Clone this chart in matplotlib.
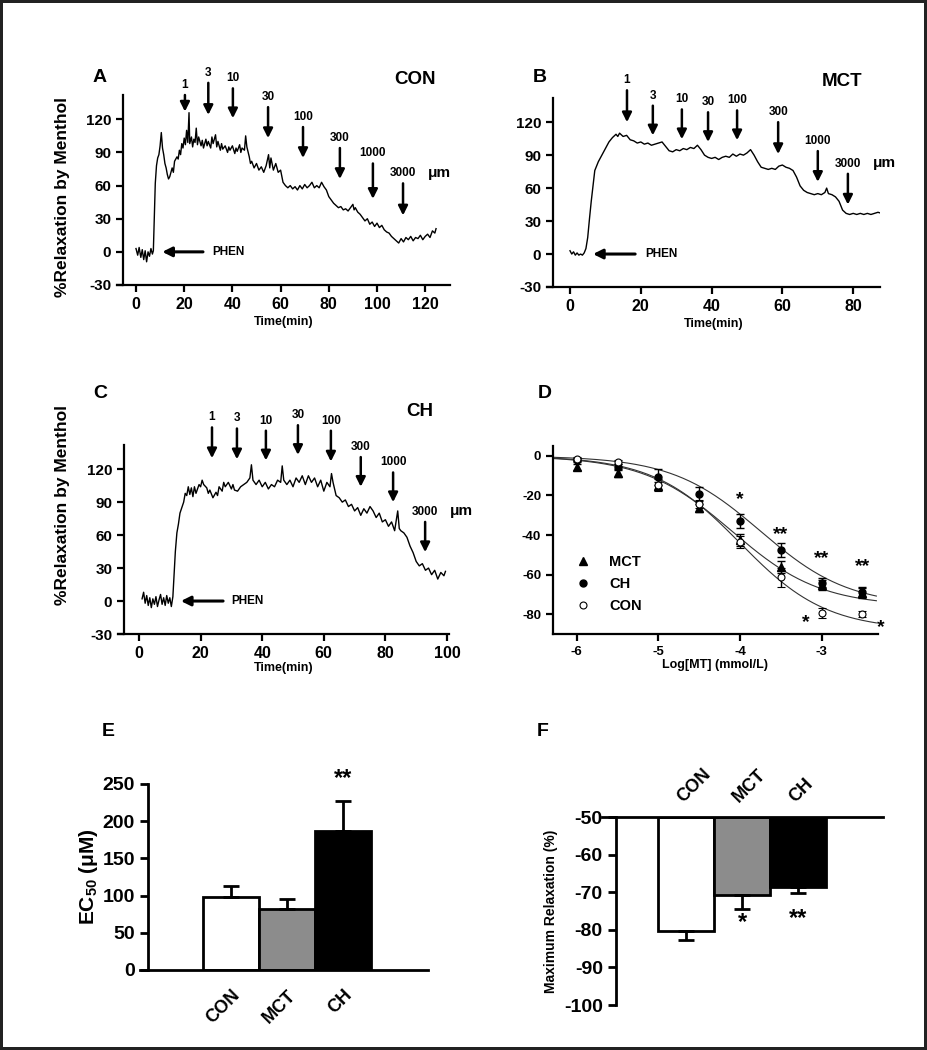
import numpy as np
import matplotlib
matplotlib.use('Agg')
import matplotlib.pyplot as plt
from matplotlib.lines import Line2D

plt.rcParams['font.family'] = ['Liberation Sans', 'DejaVu Sans']
plt.rcParams['font.weight'] = 'bold'
plt.rcParams['mathtext.fontset'] = 'custom'
plt.rcParams['mathtext.rm'] = 'Liberation Sans:bold'
plt.rcParams['mathtext.default'] = 'rm'
plt.rcParams['axes.unicode_minus'] = False

# ---- raw tracings (time in min, % relaxation) ----
time_con = [0, 0.7, 1.3, 2, 2.6, 3.2, 3.8, 4.4, 5, 5.6, 6.2, 6.8, 7.2, 7.6, 8, 8.5, 9, 9.5, 10, 10.5,
            11, 11.5, 12, 12.5, 13, 13.5, 14, 15, 15.5, 16, 17, 17.5, 18, 18.5, 19, 19.5, 20, 20.5, 21, 21.5,
            22, 22.3, 23, 23.5, 24, 24.5, 25, 25.5, 26, 27, 27.5, 28, 29, 29.5, 30, 31, 31.5, 32, 33, 33.5,
            34, 35, 35.5, 36, 37, 38, 38.5, 39, 40, 41, 41.5, 42, 43, 43.5, 44, 45, 45.5, 46, 47, 47.5,
            48, 49, 50, 51, 52, 53, 54, 55, 55.5, 56, 57, 58, 59, 60, 61, 62, 63, 64, 65, 66,
            67, 68, 69, 70, 71, 72, 73, 74, 75, 76, 77, 78, 79, 80, 81, 82, 83, 84, 85, 86,
            87, 88, 89, 90, 90.5, 91, 92, 93, 94, 95, 96, 97, 98, 99, 100, 101, 102, 103, 104, 105,
            106, 107, 108, 109, 110, 111, 112, 113, 114, 115, 116, 117, 118, 119, 120, 121, 122, 123, 124, 124.5]
relax_con = [3, -3, 4, -5, 2, -7, 1, -9, 0, -4, 3, -2, 1, 30, 62, 78, 85, 88, 96, 108,
             94, 88, 80, 76, 70, 66, 68, 76, 72, 82, 86, 84, 92, 88, 98, 94, 103, 97, 110, 99,
             126, 98, 104, 95, 102, 99, 112, 97, 104, 96, 101, 94, 102, 96, 100, 94, 104, 98, 106, 95,
             100, 92, 98, 93, 96, 90, 95, 92, 96, 89, 94, 91, 97, 90, 94, 92, 105, 95, 86, 80,
             82, 76, 80, 74, 77, 72, 78, 88, 76, 85, 74, 80, 72, 74, 63, 60, 58, 60, 57, 59,
             56, 60, 57, 61, 58, 60, 63, 58, 60, 58, 63, 59, 56, 50, 47, 44, 42, 40, 41, 38,
             39, 37, 40, 43, 38, 40, 36, 34, 31, 28, 30, 25, 27, 23, 26, 22, 24, 20, 18, 17,
             14, 12, 10, 8, 12, 9, 13, 11, 14, 10, 13, 12, 15, 11, 14, 16, 13, 19, 17, 21]

time_mct = [0, 0.5, 1, 1.5, 2, 2.5, 3, 3.5, 4, 4.5, 5, 5.5, 6, 6.5, 7, 7.5, 8, 9, 10, 11,
            12, 13, 13.5, 14, 15, 16, 17, 18, 19, 20, 21, 22, 23, 24, 25, 26, 27, 28, 29, 30,
            31, 32, 33, 34, 35, 36, 37, 38, 39, 40, 41, 42, 43, 44, 45, 46, 47, 48, 49, 50,
            51, 52, 53, 54, 55, 56, 57, 58, 59, 60, 61, 62, 63, 64, 65, 66, 67, 68, 69, 70,
            71, 72, 72.5, 73, 74, 75, 76, 77, 78, 79, 80, 81, 82, 83, 84, 85, 86, 87, 88, 89, 89.5]
relax_mct = [3, 0, 2, -1, 1, -1, 0, -1, 1, 5, 15, 32, 48, 62, 76, 80, 84, 90, 96, 102,
             106, 109, 107, 110, 107, 108, 104, 103, 101, 102, 100, 101, 99, 100, 101, 102, 98, 94, 93, 95,
             94, 96, 95, 97, 96, 99, 95, 90, 88, 87, 88, 86, 88, 89, 88, 91, 89, 91, 90, 92,
             95, 90, 84, 79, 78, 77, 78, 77, 80, 81, 79, 78, 76, 70, 62, 58, 56, 55, 54, 55,
             54, 56, 60, 55, 54, 52, 48, 40, 37, 36, 37, 36, 37, 36, 37, 36, 37, 38, 37, 38, 37]

time_ch = [1, 1.5, 2, 2.5, 3, 3.5, 4, 4.5, 5, 5.5, 6, 6.5, 7, 7.5, 8, 8.5, 9, 9.5, 10, 10.5,
           11, 11.3, 11.8, 12.3, 12.8, 13.3, 14, 14.5, 15, 15.5, 16, 16.5, 17, 17.5, 18, 18.5, 19, 19.5, 20, 20.5,
           21, 22, 22.5, 23, 24, 25, 25.5, 26, 27, 27.5, 28, 29, 30, 30.5, 31, 32, 33, 34, 35, 36,
           36.5, 37, 38, 39, 40, 41, 42, 43, 44, 45, 46, 46.5, 47, 48, 49, 50, 51, 52, 53, 54,
           55, 56, 57, 58, 59, 60, 61, 62, 62.5, 63, 64, 65, 66, 67, 68, 69, 70, 71, 72, 73,
           74, 75, 76, 77, 78, 79, 80, 81, 82, 83, 84, 84.5, 85, 86, 87, 88, 89, 90, 91, 92,
           93, 94, 95, 96, 97, 98, 99, 99.5]
relax_ch = [2, 8, -2, 5, -4, 3, -6, 2, -3, 4, -5, 1, 6, -3, 3, -4, 5, -2, 3, -5,
            4, 20, 45, 62, 70, 80, 86, 90, 98, 96, 104, 97, 103, 95, 104, 98, 102, 106, 104, 110,
            106, 103, 98, 101, 94, 99, 96, 104, 100, 108, 104, 108, 102, 106, 101, 100, 104, 106, 108, 112,
            124, 110, 106, 110, 104, 108, 102, 106, 104, 110, 108, 123, 110, 106, 110, 104, 112, 108, 114, 106,
            114, 108, 112, 104, 110, 100, 108, 104, 116, 108, 96, 94, 90, 92, 86, 88, 82, 85, 78, 84,
            80, 86, 82, 76, 80, 72, 74, 68, 72, 64, 82, 66, 64, 62, 58, 50, 44, 36, 32, 34,
            28, 30, 24, 28, 20, 26, 23, 27]

# ---- menthol additions (µM) ----
doses = ['1', '3', '10', '30', '100', '300', '1000', '3000']
arrow_t_con = [20.3, 30, 40.2, 54.8, 69.3, 84.6, 98.3, 110.8]
arrow_tip_con = [127, 124, 121, 103, 85, 66, 48, 33]
arrow_top_con = [142, 153, 148, 131, 113, 94, 80, 62]
arrow_t_mct = [16.1, 23.4, 31.6, 39, 47.2, 58.8, 70, 78.5]
arrow_tip_mct = [120, 108, 104.5, 102, 103.6, 91, 65.7, 45]
arrow_top_mct = [149, 135, 131.6, 129, 130.7, 120, 93.7, 73]
arrow_t_ch = [23.7, 31.8, 41.2, 51.6, 62.3, 72, 82.5, 92.9]
arrow_tip_ch = [130, 129, 128, 133, 127, 104, 90, 44.5]
arrow_top_ch = [158, 157, 155, 160, 155, 131, 117, 72]

# ---- concentration-response (D) ----
log_mt = [-6, -5.5, -5, -4.5, -4, -3.5, -3, -2.5]
resp_mct = [-5.4, -8.8, -15.2, -26.3, -42.5, -56, -65.3, -69.5]
err_mct = [1.5, 2, 2, 2, 3, 3, 2.5, 2.5]
resp_ch = [-2, -5.7, -10.8, -19.2, -32.9, -47.6, -64, -69]
err_ch = [1, 1.5, 4, 3.5, 3.5, 3.5, 2.5, 2.5]
resp_con = [-1.7, -3.2, -14.7, -24.3, -43.5, -61.4, -79.3, -79.7]
err_con = [1, 1, 3, 2, 3, 5, 2.5, 1.5]
# fitted sigmoid parameters: bottom, logEC50, hill slope
fit_mct = (-76, -4.1, 0.8)
fit_ch = (-76, -3.75, 0.8)
fit_con = (-88, -4.0, 0.82)

# ---- summary bars ----
groups = ['CON', 'MCT', 'CH']
ec50 = [98, 82, 187]
ec50_err = [15, 14, 40]
max_relax = [-80.3, -70.8, -68.5]
max_relax_err = [2.4, 3.7, 1.8]
bar_colors = ['white', '#8c8c8c', 'black']

fig = plt.figure(figsize=(9.27, 10.5), dpi=100, linewidth=4, edgecolor='#222222')
W, H = 927.0, 1050.0


def px_axes(left, top, right, bottom):
    return fig.add_axes([left / W, 1 - bottom / H, (right - left) / W, (bottom - top) / H])


def style(ax, lw=1.6):
    for s in ['right', 'top']:
        ax.spines[s].set_visible(False)
    for s in ['left', 'bottom']:
        ax.spines[s].set_linewidth(lw)
    ax.tick_params(width=lw, length=5, direction='out')


def trace_panel(ax, t, y, xmax_tick, arrow_t, arrow_tip, arrow_top, phen, xspine):
    ax.plot(t, y, color='black', lw=1.0)
    style(ax)
    ax.spines['left'].set_position(('data', xspine))
    ax.set_ylim(-30, 142)
    ax.set_yticks([-30, 0, 30, 60, 90, 120])
    ax.set_xticks(np.arange(0, xmax_tick + 1, 20))
    ax.tick_params(axis='y', labelsize=11)
    ax.tick_params(axis='x', labelsize=11.5)
    for lbl in ax.get_xticklabels() + ax.get_yticklabels():
        lbl.set_fontweight('bold')
    for d, xt, tip, top in zip(doses, arrow_t, arrow_tip, arrow_top):
        ax.annotate('', xy=(xt, tip), xytext=(xt, top), annotation_clip=False,
                    arrowprops=dict(arrowstyle='-|>', color='black', lw=1.8,
                                    mutation_scale=14, shrinkA=0, shrinkB=0))
        ax.annotate(d, xy=(xt, top), xytext=(0, 3), textcoords='offset points',
                    ha='center', va='bottom', fontsize=8.5, fontweight='bold',
                    annotation_clip=False)
    ax.annotate('\u03bcm', xy=(arrow_t[-1], arrow_top[-1]), xytext=(18, 2.5),
                textcoords='offset points', ha='left', va='bottom', fontsize=11,
                fontweight='bold', annotation_clip=False)
    ax.annotate('', xy=(phen[0], 0), xytext=(phen[1], 0),
                arrowprops=dict(arrowstyle='-|>', color='black', lw=2.2,
                                mutation_scale=14, shrinkA=0, shrinkB=0))
    ax.text(phen[2], 0, 'PHEN', ha='left', va='center', fontsize=8.5, fontweight='bold')


# A
axA = px_axes(117, 95, 450, 285)
axA.set_xlim((117 - 136) / 2.41, (450 - 136) / 2.41)
trace_panel(axA, time_con, relax_con, 120, arrow_t_con, arrow_tip_con, arrow_top_con,
            (10.9, 27.8, 31.5), (123 - 136) / 2.41)
axA.set_xlabel('Time(min)', fontsize=9, fontweight='bold', labelpad=3)

# B
axB = px_axes(547, 98, 880, 287)
axB.set_xlim((547 - 570) / 3.54, (880 - 570) / 3.54)
trace_panel(axB, time_mct, relax_mct, 80, arrow_t_mct, arrow_tip_mct, arrow_top_mct,
            (6.5, 18.4, 21.2), (553 - 570) / 3.54)
axB.set_xlabel('Time(min)', fontsize=9, fontweight='bold', labelpad=3)

# C
axC = px_axes(118, 445, 449, 634)
axC.set_xlim((118 - 139) / 3.08, (449 - 139) / 3.08)
trace_panel(axC, time_ch, relax_ch, 100, arrow_t_ch, arrow_tip_ch, arrow_top_ch,
            (13.6, 27.3, 29.9), (124 - 139) / 3.08)
axC.set_xlabel('Time(min)', fontsize=9, fontweight='bold', labelpad=1)

for yc in [197, 505]:
    fig.text(62 / W, 1 - yc / H, '%Relaxation by Menthol', rotation=90, ha='center',
             va='center', fontsize=12.5, fontweight='bold')

# D
axD = px_axes(553, 446, 878, 634)
style(axD)
curve_x = np.linspace(-6.29, -2.33, 200)
for (bottom, logec, hill) in [fit_mct, fit_ch, fit_con]:
    axD.plot(curve_x, bottom / (1 + 10 ** ((logec - curve_x) * hill)), color='#333333', lw=0.8)
axD.errorbar(log_mt, resp_mct, yerr=err_mct, fmt='^', color='black', ms=6, capsize=3,
             elinewidth=1)
axD.errorbar(log_mt, resp_ch, yerr=err_ch, fmt='o', color='black', ms=5, capsize=3,
             elinewidth=1)
axD.errorbar(log_mt, resp_con, yerr=err_con, fmt='o', color='black', mfc='white', ms=5,
             capsize=3, elinewidth=1, mew=0.8)
axD.set_xlim(-6.29, -2.31)
axD.set_ylim(-90, 5)
axD.set_xticks([-6, -5, -4, -3])
axD.set_yticks([0, -20, -40, -60, -80])
axD.tick_params(labelsize=9.5)
for lbl in axD.get_xticklabels() + axD.get_yticklabels():
    lbl.set_fontweight('bold')
axD.set_xlabel('Log[MT] (mmol/L)', fontsize=9, fontweight='bold', labelpad=1)
handles = [Line2D([], [], ls='none', marker='^', color='black', ms=6),
           Line2D([], [], ls='none', marker='o', color='black', ms=5),
           Line2D([], [], ls='none', marker='o', color='black', mfc='white', ms=5, mew=0.8)]
leg = axD.legend(handles, ['MCT', 'CH', 'CON'], loc='lower left',
                 bbox_to_anchor=(0.03, 0.04), frameon=False, fontsize=10.5,
                 handletextpad=1.3, labelspacing=0.55, handlelength=1.0)
for txt in leg.get_texts():
    txt.set_fontweight('bold')
for xs, ys, s in [(-4, -22, '*'), (-3.5, -40, '**'), (-3, -52, '**'), (-2.5, -56, '**'),
                  (-3.2, -84, '*'), (-2.27, -87, '*')]:
    axD.text(xs, ys, s, ha='center', va='center', fontsize=14, clip_on=False)

# E
axE = px_axes(140, 784, 428, 970)
style(axE, lw=2)
axE.spines['left'].set_position(('data', -(231 - 148) / 56))
axE.bar(range(3), ec50, width=1.0, color=bar_colors, edgecolor='black', linewidth=2)
axE.errorbar([0, 1, 2], ec50, yerr=[[0, 0, 0], ec50_err], fmt='none', ecolor='black',
             elinewidth=2, capsize=6, capthick=2)
axE.set_xlim(-(231 - 140) / 56, 2 + (428 - 343) / 56)
axE.set_ylim(0, 250)
axE.set_yticks([0, 50, 100, 150, 200, 250])
axE.set_xticks(range(3))
axE.set_xticklabels(groups, rotation=45, ha='right', rotation_mode='anchor')
axE.tick_params(axis='x', length=0, pad=12, labelsize=13)
axE.tick_params(axis='y', labelsize=14, length=6)
for lbl in axE.get_xticklabels() + axE.get_yticklabels():
    lbl.set_fontweight('bold')
axE.set_ylabel('EC$_{50}$ (\u03bcM)', fontsize=15, fontweight='bold', labelpad=2)
axE.text(2, 258, '**', ha='center', va='center', fontsize=17, clip_on=False)

# F
axF = px_axes(602, 817, 883, 1005)
for s in ['right', 'bottom']:
    axF.spines[s].set_visible(False)
axF.spines['left'].set_linewidth(2)
axF.spines['top'].set_linewidth(2)
axF.spines['left'].set_position(('data', -(686 - 616) / 56))
axF.bar(range(3), [v + 50 for v in max_relax], bottom=-50, width=1.0, color=bar_colors,
        edgecolor='black', linewidth=2)
axF.errorbar([0, 1, 2], max_relax, yerr=[max_relax_err, [0, 0, 0]], fmt='none',
             ecolor='black', elinewidth=2, capsize=6, capthick=2)
axF.set_xlim(-(686 - 602) / 56, 2 + (883 - 798) / 56)
axF.set_ylim(-100, -50)
axF.set_yticks([-100, -90, -80, -70, -60, -50])
axF.xaxis.tick_top()
axF.set_xticks(range(3))
axF.set_xticklabels(groups, rotation=45, ha='left', rotation_mode='anchor')
axF.tick_params(axis='x', length=0, pad=8, labelsize=13)
axF.tick_params(axis='y', labelsize=14, length=6, width=2)
for lbl in axF.get_xticklabels() + axF.get_yticklabels():
    lbl.set_fontweight('bold')
axF.set_ylabel('Maximum Relaxation (%)', fontsize=10, fontweight='bold', labelpad=4)
axF.text(1, -78, '*', ha='center', va='center', fontsize=17)
axF.text(2, -77, '**', ha='center', va='center', fontsize=17)

# panel letters and group titles
for x, y, s in [(100, 77, 'A'), (540, 77, 'B'), (100, 393, 'C'), (545, 393, 'D'),
                (108, 732, 'E'), (543, 732, 'F')]:
    fig.text(x / W, 1 - y / H, s, fontsize=14, fontweight='bold', ha='center', va='center')
for x, y, s in [(415, 80, 'CON'), (842, 82, 'MCT'), (420, 412, 'CH')]:
    fig.text(x / W, 1 - y / H, s, fontsize=13.5, fontweight='bold', ha='center', va='center')

fig.savefig('out.png', dpi=100)
